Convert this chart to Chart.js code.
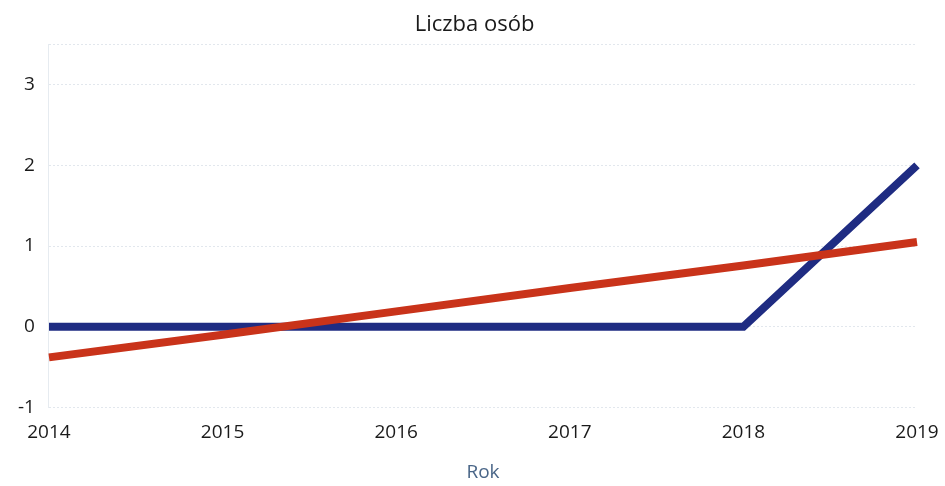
<!DOCTYPE html>
<html>
<head>
<meta charset="utf-8">
<script src="https://cdn.jsdelivr.net/npm/chart.js@4/dist/chart.umd.min.js"></script>
<style>
html,body{margin:0;padding:0;background:#fff;}
canvas{display:block;}
</style>
</head>
<body>
<canvas id="c" width="945" height="486"></canvas>
<script>
const years = ['2014','2015','2016','2017','2018','2019'];
const liczbaOsob = [0, 0, 0, 0, 0, 2];
const trend = [-0.38, -0.10, 0.19, 0.48, 0.76, 1.05];
const yTicks = [-1, 0, 1, 2, 3];

new Chart(document.getElementById('c'), {
  type: 'line',
  data: {
    labels: years,
    datasets: [
      {label: 'Liczba osób', data: liczbaOsob, borderColor: '#1f2c82', borderWidth: 8,
       pointRadius: 0, tension: 0, fill: false, order: 1, borderJoinStyle: 'miter'},
      {label: 'Trend', data: trend, borderColor: '#c9331a', borderWidth: 8,
       pointRadius: 0, tension: 0, fill: false, order: 0}
    ]
  },
  options: {
    responsive: false,
    animation: false,
    layout: {padding: {left: 4, right: 0, top: 0, bottom: 2}},
    plugins: {
      legend: {display: false},
      tooltip: {enabled: false},
      title: {display: true, text: 'Liczba osób', color: '#1a1a1a',
              font: {family: 'Open Sans', size: 22, weight: 'normal'},
              padding: {top: 12, bottom: 6}}
    },
    scales: {
      x: {
        offset: false,
        grid: {display: false, drawTicks: false},
        border: {display: false},
        afterFit: (s) => { s.paddingRight = 28; },
        ticks: {color: '#1a1a1a', font: {family: 'Open Sans', size: 19}, padding: 14, maxRotation: 0},
        title: {display: true, text: 'Rok', color: '#4a6688',
                font: {family: 'Open Sans', size: 19}, padding: {top: 3, bottom: 0}}
      },
      y: {
        min: -1, max: 3.5,
        afterBuildTicks: (s) => { s.ticks = yTicks.map(v => ({value: v})).concat([{value: 3.5}]); },
        grid: {color: '#e2e7ed', drawTicks: false, lineWidth: 1},
        border: {display: true, color: '#e6ebf0', dash: [2, 2]},
        ticks: {color: '#1a1a1a', font: {family: 'Open Sans', size: 19}, padding: 14,
                callback: (v) => (yTicks.includes(v) ? String(v) : '')}
      }
    }
  }
});
</script>
</body>
</html>
